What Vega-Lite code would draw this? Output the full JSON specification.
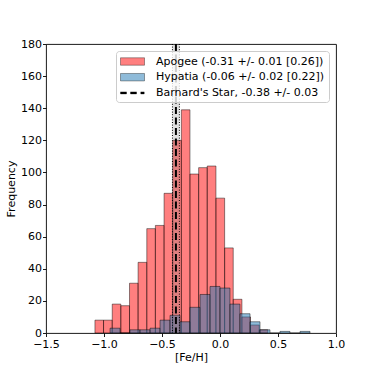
{
  "$schema": "https://vega.github.io/schema/vega-lite/v6.json",
  "width": 290,
  "height": 289,
  "autosize": {"type": "none"},
  "padding": {"left": 46, "top": 44, "right": 38, "bottom": 41},
  "background": "white",
  "config": {
    "view": {"stroke": "black", "strokeWidth": 0.9},
    "font": "DejaVu Sans",
    "axis": {
      "domain": false, "grid": false,
      "labelFont": "DejaVu Sans", "labelFontSize": 11, "labelColor": "black",
      "titleFont": "DejaVu Sans", "titleFontSize": 11, "titleFontWeight": "normal", "titleColor": "black",
      "tickColor": "black", "tickSize": 3.5, "tickWidth": 0.9
    }
  },
  "datasets": {
    "hist": [
      {"series": "Apogee (-0.31 +/- 0.01 [0.26])", "bin_start": -1.078, "bin_end": -1.004, "count": 8},
      {"series": "Apogee (-0.31 +/- 0.01 [0.26])", "bin_start": -1.004, "bin_end": -0.929, "count": 8},
      {"series": "Apogee (-0.31 +/- 0.01 [0.26])", "bin_start": -0.929, "bin_end": -0.855, "count": 18},
      {"series": "Apogee (-0.31 +/- 0.01 [0.26])", "bin_start": -0.855, "bin_end": -0.780, "count": 17},
      {"series": "Apogee (-0.31 +/- 0.01 [0.26])", "bin_start": -0.780, "bin_end": -0.706, "count": 31},
      {"series": "Apogee (-0.31 +/- 0.01 [0.26])", "bin_start": -0.706, "bin_end": -0.631, "count": 44},
      {"series": "Apogee (-0.31 +/- 0.01 [0.26])", "bin_start": -0.631, "bin_end": -0.557, "count": 65},
      {"series": "Apogee (-0.31 +/- 0.01 [0.26])", "bin_start": -0.557, "bin_end": -0.482, "count": 67},
      {"series": "Apogee (-0.31 +/- 0.01 [0.26])", "bin_start": -0.482, "bin_end": -0.408, "count": 87},
      {"series": "Apogee (-0.31 +/- 0.01 [0.26])", "bin_start": -0.408, "bin_end": -0.333, "count": 120},
      {"series": "Apogee (-0.31 +/- 0.01 [0.26])", "bin_start": -0.333, "bin_end": -0.259, "count": 139},
      {"series": "Apogee (-0.31 +/- 0.01 [0.26])", "bin_start": -0.259, "bin_end": -0.184, "count": 99},
      {"series": "Apogee (-0.31 +/- 0.01 [0.26])", "bin_start": -0.184, "bin_end": -0.110, "count": 103},
      {"series": "Apogee (-0.31 +/- 0.01 [0.26])", "bin_start": -0.110, "bin_end": -0.035, "count": 104},
      {"series": "Apogee (-0.31 +/- 0.01 [0.26])", "bin_start": -0.035, "bin_end": 0.040, "count": 84},
      {"series": "Apogee (-0.31 +/- 0.01 [0.26])", "bin_start": 0.040, "bin_end": 0.114, "count": 53},
      {"series": "Apogee (-0.31 +/- 0.01 [0.26])", "bin_start": 0.114, "bin_end": 0.189, "count": 21},
      {"series": "Apogee (-0.31 +/- 0.01 [0.26])", "bin_start": 0.189, "bin_end": 0.263, "count": 10},
      {"series": "Apogee (-0.31 +/- 0.01 [0.26])", "bin_start": 0.263, "bin_end": 0.338, "count": 5},
      {"series": "Apogee (-0.31 +/- 0.01 [0.26])", "bin_start": 0.338, "bin_end": 0.412, "count": 2},
      {"series": "Hypatia (-0.06 +/- 0.02 [0.22])", "bin_start": -0.948, "bin_end": -0.862, "count": 3},
      {"series": "Hypatia (-0.06 +/- 0.02 [0.22])", "bin_start": -0.862, "bin_end": -0.776, "count": 0},
      {"series": "Hypatia (-0.06 +/- 0.02 [0.22])", "bin_start": -0.776, "bin_end": -0.690, "count": 2},
      {"series": "Hypatia (-0.06 +/- 0.02 [0.22])", "bin_start": -0.690, "bin_end": -0.603, "count": 2},
      {"series": "Hypatia (-0.06 +/- 0.02 [0.22])", "bin_start": -0.603, "bin_end": -0.517, "count": 3},
      {"series": "Hypatia (-0.06 +/- 0.02 [0.22])", "bin_start": -0.517, "bin_end": -0.431, "count": 8},
      {"series": "Hypatia (-0.06 +/- 0.02 [0.22])", "bin_start": -0.431, "bin_end": -0.345, "count": 11},
      {"series": "Hypatia (-0.06 +/- 0.02 [0.22])", "bin_start": -0.345, "bin_end": -0.259, "count": 7},
      {"series": "Hypatia (-0.06 +/- 0.02 [0.22])", "bin_start": -0.259, "bin_end": -0.172, "count": 16},
      {"series": "Hypatia (-0.06 +/- 0.02 [0.22])", "bin_start": -0.172, "bin_end": -0.086, "count": 24},
      {"series": "Hypatia (-0.06 +/- 0.02 [0.22])", "bin_start": -0.086, "bin_end": 0.000, "count": 29},
      {"series": "Hypatia (-0.06 +/- 0.02 [0.22])", "bin_start": 0.000, "bin_end": 0.086, "count": 28},
      {"series": "Hypatia (-0.06 +/- 0.02 [0.22])", "bin_start": 0.086, "bin_end": 0.172, "count": 18},
      {"series": "Hypatia (-0.06 +/- 0.02 [0.22])", "bin_start": 0.172, "bin_end": 0.259, "count": 12},
      {"series": "Hypatia (-0.06 +/- 0.02 [0.22])", "bin_start": 0.259, "bin_end": 0.345, "count": 7},
      {"series": "Hypatia (-0.06 +/- 0.02 [0.22])", "bin_start": 0.345, "bin_end": 0.431, "count": 2},
      {"series": "Hypatia (-0.06 +/- 0.02 [0.22])", "bin_start": 0.431, "bin_end": 0.517, "count": 0},
      {"series": "Hypatia (-0.06 +/- 0.02 [0.22])", "bin_start": 0.517, "bin_end": 0.603, "count": 1},
      {"series": "Hypatia (-0.06 +/- 0.02 [0.22])", "bin_start": 0.603, "bin_end": 0.690, "count": 0},
      {"series": "Hypatia (-0.06 +/- 0.02 [0.22])", "bin_start": 0.690, "bin_end": 0.776, "count": 1}
    ],
    "star": [
      {"label": "Barnard's Star, -0.38 +/- 0.03", "feh": -0.38, "lo": -0.41, "hi": -0.35}
    ]
  },
  "layer": [
    {
      "data": {"name": "hist"},
      "mark": {"type": "bar", "stroke": "black", "strokeOpacity": 0.5, "strokeWidth": 0.9},
      "encoding": {
        "x": {
          "field": "bin_start", "type": "quantitative", "title": "[Fe/H]",
          "scale": {"domain": [-1.5, 1.0], "nice": false, "zero": false},
          "axis": {"values": [-1.5, -1.0, -0.5, 0.0, 0.5, 1.0], "labelExpr": "replace(format(datum.value, '.1f'), '-', '\u2212')", "labelPadding": 1.5, "titlePadding": 2, "labelFlush": false}
        },
        "x2": {"field": "bin_end"},
        "y": {
          "field": "count", "type": "quantitative", "title": "Frequency", "stack": null,
          "scale": {"domain": [0, 180], "nice": false},
          "axis": {"values": [0, 20, 40, 60, 80, 100, 120, 140, 160, 180], "format": "d", "labelPadding": 1, "titlePadding": 4, "labelFlush": false}
        },
        "y2": {"datum": 0},
        "color": {
          "field": "series", "type": "nominal",
          "scale": {
            "domain": ["Apogee (-0.31 +/- 0.01 [0.26])", "Hypatia (-0.06 +/- 0.02 [0.22])", "Barnard's Star, -0.38 +/- 0.03"],
            "range": ["rgba(255,0,0,0.5)", "rgba(31,119,180,0.5)", "#000000"]
          },
          "legend": {
            "title": null,
            "orient": "top-right",
            "offset": 7,
            "padding": 4,
            "fillColor": "rgba(255,255,255,0.8)",
            "strokeColor": "#cccccc",
            "cornerRadius": 3,
            "labelFont": "DejaVu Sans",
            "labelFontSize": 11,
            "labelColor": "black",
            "labelLimit": 0,
            "labelOffset": 17,
            "symbolSize": 144,
            "symbolOffset": 6,
            "rowPadding": 2.7,
            "symbolStrokeColor": "rgba(0,0,0,0.4)",
            "symbolStrokeWidth": 0.9,
            "symbolOpacity": 1,
            "symbolType": {"expr": "indexof(datum.value, 'Barnard') >= 0 ? 'M-2,-0.17H-1V0.17H-2Z M-0.33,-0.17H0.67V0.17H-0.33Z M1.38,-0.17H1.95V0.17H1.38Z' : 'M-2,-0.62H2V0.62H-2Z'"}
          }
        }
      }
    },
    {
      "data": {"name": "star"},
      "mark": {"type": "rect", "fill": "gray", "opacity": 0.25},
      "encoding": {"x": {"field": "lo", "type": "quantitative"}, "x2": {"field": "hi"}}
    },
    {
      "data": {"name": "star"},
      "mark": {"type": "rule", "color": "black", "strokeWidth": 1, "strokeDash": [1, 1.6]},
      "encoding": {"x": {"field": "lo", "type": "quantitative"}}
    },
    {
      "data": {"name": "star"},
      "mark": {"type": "rule", "color": "black", "strokeWidth": 1, "strokeDash": [1, 1.6]},
      "encoding": {"x": {"field": "hi", "type": "quantitative"}}
    },
    {
      "data": {"name": "star"},
      "mark": {"type": "rule", "color": "black", "strokeWidth": 2, "strokeDash": [7, 3.5]},
      "encoding": {"x": {"field": "feh", "type": "quantitative"}}
    }
  ]
}
